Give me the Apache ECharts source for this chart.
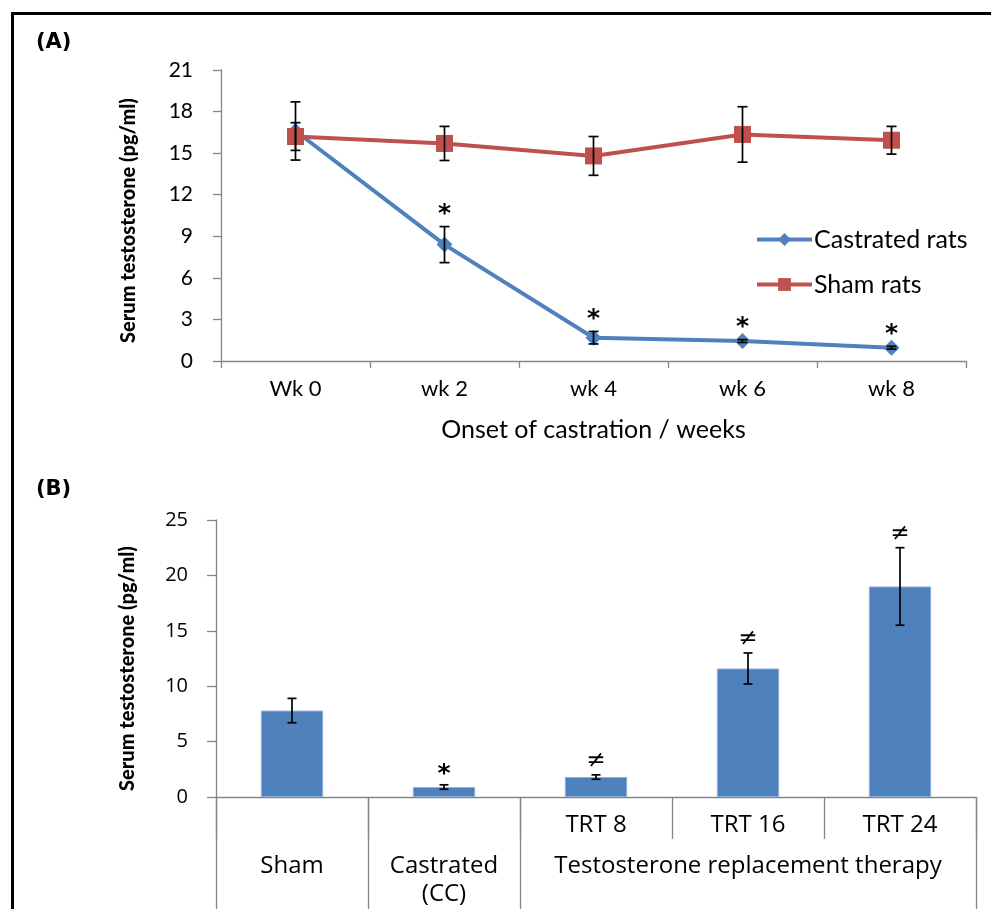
<!DOCTYPE html>
<html><head><meta charset="utf-8">
<script src="https://cdn.jsdelivr.net/npm/echarts@6/dist/echarts.min.js"></script>
<style>html,body{margin:0;padding:0;background:#fff}#c{width:991px;height:909px}</style>
</head><body><div id="c"></div>
<script>
// Panel A data
const weeks = ['Wk 0', 'wk 2', 'wk 4', 'wk 6', 'wk 8'];
const castrated = [16.6, 8.4, 1.68, 1.44, 0.96];
const castratedErr = [2.1, 1.3, 0.45, 0.1, 0.1];
const sham = [16.2, 15.7, 14.8, 16.35, 15.93];
const shamErr = [1.0, 1.23, 1.4, 2.0, 1.0];
const castratedSig = ['', '*', '*', '*', '*'];

// Panel B data
const subLabelsB = ['', '', 'TRT 8', 'TRT 16', 'TRT 24'];
const groupLabelsB = ['Sham', 'Castrated\n(CC)', '', 'Testosterone replacement therapy', ''];
const valuesB = [7.8, 0.9, 1.8, 11.6, 19.0];
const errB = [1.1, 0.2, 0.2, 1.4, 3.5];
const sigB = ['', '*', '\u2260', '\u2260', '\u2260'];

const AX = '#868686';
const FA = 'Lato';
const FB = 'Open Sans';

function errSeries(name, xi, yi, vals, errs, capW) {
  return {
    type: 'custom', name: name, xAxisIndex: xi, yAxisIndex: yi, z: 5,
    data: vals.map((v, i) => [i, v, errs[i]]),
    renderItem: function (params, api) {
      const x = api.value(0), v = api.value(1), e = api.value(2);
      const top = api.coord([x, v + e]);
      const bot = api.coord([x, v - e]);
      const st = { stroke: '#000', lineWidth: 1.7 };
      return { type: 'group', children: [
        { type: 'line', shape: { x1: top[0], y1: top[1], x2: bot[0], y2: bot[1] }, style: st },
        { type: 'line', shape: { x1: top[0] - capW / 2, y1: top[1], x2: top[0] + capW / 2, y2: top[1] }, style: st },
        { type: 'line', shape: { x1: bot[0] - capW / 2, y1: bot[1], x2: bot[0] + capW / 2, y2: bot[1] }, style: st }
      ]};
    }
  };
}

function sigSeries(xi, yi, vals, errs, sigs, gap) {
  return {
    type: 'custom', xAxisIndex: xi, yAxisIndex: yi, z: 6,
    data: vals.map((v, i) => [i, v + errs[i]]),
    renderItem: function (params, api) {
      const s = sigs[params.dataIndex];
      if (!s) return null;
      const p = api.coord([api.value(0), api.value(1)]);
      const isStar = s === '*';
      return { type: 'text', x: p[0], y: p[1] - gap - (isStar ? -4 : 0),
        style: { text: s, fill: '#000', textAlign: 'center', textVerticalAlign: 'middle',
          font: (isStar ? 'bold 25px ' : '23px ') + '"DejaVu Sans"' } };
    }
  };
}

const chart = echarts.init(document.getElementById('c'), null, { renderer: 'canvas' });
chart.setOption({
  animation: false,
  backgroundColor: '#fff',
  title: [
    { text: '(A)', left: 31, top: 27, textStyle: { fontFamily: 'DejaVu Sans', fontWeight: 'bold', fontSize: 21, color: '#000' } },
    { text: '(B)', left: 31, top: 474, textStyle: { fontFamily: 'DejaVu Sans', fontWeight: 'bold', fontSize: 21, color: '#000' } }
  ],
  graphic: [
    { type: 'rect', shape: { x: 12.5, y: 13.5, width: 1100, height: 1000 }, style: { fill: 'none', stroke: '#000', lineWidth: 3 }, silent: true }
  ],
  legend: {
    data: ['Castrated rats', 'Sham rats'], orient: 'vertical', left: 750, top: 222,
    itemWidth: 55, itemHeight: 16, itemGap: 20,
    lineStyle: { width: 4 },
    textStyle: { fontFamily: FA, fontSize: 25, color: '#000', padding: [0, 0, 0, -3] }
  },
  grid: [
    { left: 221, top: 70, width: 745, height: 291 },
    { left: 216, top: 520, width: 760, height: 277 }
  ],
  xAxis: [
    { gridIndex: 0, type: 'category', data: weeks, boundaryGap: true,
      axisLine: { show: true, lineStyle: { color: AX, width: 1.3 } },
      axisTick: { show: true, alignWithLabel: false, interval: 0, length: 7, lineStyle: { color: AX, width: 1.3 } },
      axisLabel: { color: '#000', fontFamily: FA, fontSize: 22, margin: 17, interval: 0 },
      name: 'Onset of castration / weeks', nameLocation: 'middle', nameGap: 56,
      nameTextStyle: { color: '#000', fontFamily: FA, fontSize: 25 } },
    { gridIndex: 1, type: 'category', data: subLabelsB, position: 'bottom',
      axisLine: { show: true, lineStyle: { color: AX, width: 1.3 } },
      axisTick: { show: true, alignWithLabel: false, interval: 0, length: 42, lineStyle: { color: AX, width: 1.3 } },
      axisLabel: { color: '#000', fontFamily: FB, fontSize: 24, margin: 16, interval: 0 } },
    { gridIndex: 1, type: 'category', data: groupLabelsB, position: 'bottom',
      axisLine: { show: false },
      axisTick: { show: true, alignWithLabel: false, length: 112, interval: function (i) { return i <= 2; }, lineStyle: { color: AX, width: 1.3 } },
      axisLabel: { color: '#000', fontFamily: FB, fontSize: 24, margin: 55, lineHeight: 28, interval: 0 } }
  ],
  yAxis: [
    { gridIndex: 0, type: 'value', min: 0, max: 21, interval: 3,
      axisLine: { show: true, lineStyle: { color: AX, width: 1.3 } },
      axisTick: { show: true, length: 8, lineStyle: { color: AX, width: 1.3 } },
      splitLine: { show: false },
      axisLabel: { color: '#000', fontFamily: FA, fontSize: 21, margin: 28 },
      name: 'Serum testosterone (pg/ml)', nameLocation: 'middle', nameGap: 82,
      nameTextStyle: { color: '#000', fontFamily: FA, fontWeight: 900, fontSize: 20, padding: [0, 10, 0, 0] } },
    { gridIndex: 1, type: 'value', min: 0, max: 25, interval: 5,
      axisLine: { show: true, lineStyle: { color: AX, width: 1.3 } },
      axisTick: { show: true, length: 9, lineStyle: { color: AX, width: 1.3 } },
      splitLine: { show: false },
      axisLabel: { color: '#000', fontFamily: FB, fontSize: 20, margin: 28 },
      name: 'Serum testosterone (pg/ml)', nameLocation: 'middle', nameGap: 78,
      nameTextStyle: { color: '#000', fontFamily: FA, fontWeight: 900, fontSize: 20, padding: [0, 20, 0, 0] } }
  ],
  series: [
    { name: 'Castrated rats', type: 'line', xAxisIndex: 0, yAxisIndex: 0, data: castrated,
      symbol: 'diamond', symbolSize: 16, z: 3,
      lineStyle: { color: '#4F81BD', width: 4 }, itemStyle: { color: '#4F81BD' } },
    { name: 'Sham rats', type: 'line', xAxisIndex: 0, yAxisIndex: 0, data: sham,
      symbol: 'rect', symbolSize: 17, z: 4,
      lineStyle: { color: '#C0504D', width: 4 }, itemStyle: { color: '#C0504D' } },
    errSeries('errC', 0, 0, castrated, castratedErr, 10),
    errSeries('errS', 0, 0, sham, shamErr, 10),
    sigSeries(0, 0, castrated, castratedErr, castratedSig, 16),
    { name: 'B', type: 'bar', xAxisIndex: 1, yAxisIndex: 1, data: valuesB, barWidth: '41%',
      itemStyle: { color: '#4F81BD', borderColor: '#8DB0DC', borderWidth: 1 } },
    errSeries('errB', 1, 1, valuesB, errB, 9),
    sigSeries(1, 1, valuesB, errB, sigB, 14)
  ]
});
</script></body></html>
